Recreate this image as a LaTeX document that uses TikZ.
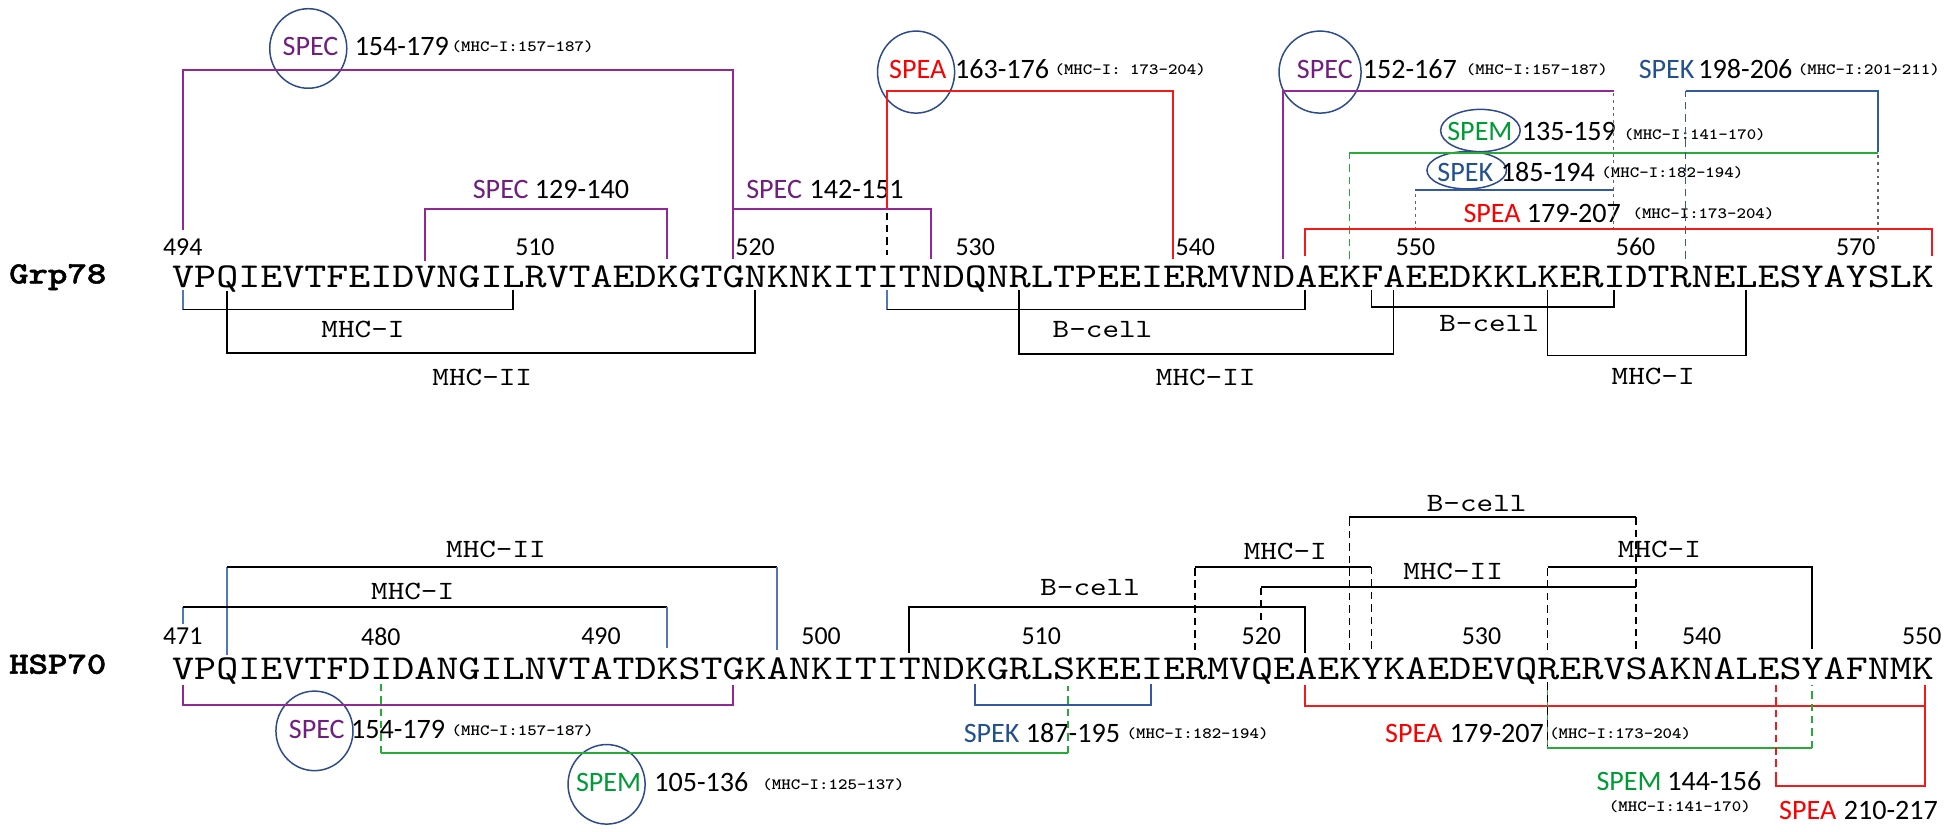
\documentclass[tikz,border=0pt]{standalone}
\usepackage{fontspec}
\newfontfamily\seqf{lmmono10-regular.otf}[FakeStretch=1.2]
\newfontfamily\protf{lmmonolt10-bold.otf}[FakeStretch=1.2,FakeBold=1.5]
\newfontfamily\minif{lmmonolt10-bold.otf}[FakeStretch=1.15]
\newfontfamily\calf{Carlito}
\usetikzlibrary{shapes.geometric,calc}
\definecolor{pur}{RGB}{145,40,150}
\definecolor{purT}{RGB}{112,30,128}
\definecolor{redL}{RGB}{245,25,25}
\definecolor{redT}{RGB}{250,0,0}
\definecolor{grnL}{RGB}{40,170,55}
\definecolor{grnT}{RGB}{0,155,55}
\definecolor{bluL}{RGB}{50,90,160}
\definecolor{bluT}{RGB}{35,80,145}
\definecolor{stl}{RGB}{80,120,180}
\definecolor{ringc}{RGB}{45,75,140}
\definecolor{dotg}{RGB}{100,100,100}
\tikzset{
  seq/.style={font=\seqf\fontsize{14.06}{16}\selectfont, inner sep=0pt, anchor=base west},
  protname/.style={font=\protf\fontsize{12.4}{14}\selectfont, inner sep=0pt, anchor=base west},
  lab/.style={font=\seqf\fontsize{10.6}{12}\selectfont, inner sep=0pt},
  num/.style={font=\calf\fontsize{10.4}{12}\selectfont, inner sep=0pt},
  tag/.style={font=\calf\fontsize{11.3}{13}\selectfont, inner sep=0pt, anchor=base west},
  mini/.style={font=\minif\fontsize{6.3}{7}\selectfont, inner sep=0pt, anchor=base west},
  ringnode/.style={draw=ringc, line width=0.6pt, ellipse, inner sep=0pt},
  br/.style={line width=0.75pt},
  dsh/.style={line width=0.75pt, dash pattern=on 3pt off 2pt},
  dotln/.style={line width=0.7pt, dotg, dash pattern=on 1.2pt off 1.5pt}
}
\begin{document}
\begin{tikzpicture}[x=0.5pt,y=-0.5pt]
\useasboundingbox (0,0) rectangle (1568,669);
\fill[white] (0,0) rectangle (1568,669);

% residue coordinates
\foreach \n in {494,...,573} \coordinate (g\n) at ({147+17.71*(\n-494)},231);
\foreach \n in {471,...,550} \coordinate (h\n) at ({147+17.71*(\n-471)},547);
\coordinate (gR) at (1554,231);
\coordinate (gB) at (1356,231);
\coordinate (hR) at (1549,547);
\coordinate (hX) at (1429,547);
\coordinate (hG) at (859,547);

% protein names and sequences
\node[protname] (grp) at (7,228) {Grp78};
\node[protname] (hsp) at (7,542) {HSP70};
\node[seq] (seqg) at (138.15,231) {VPQIEVTFEIDVNGILRVTAEDKGTGNKNKITITNDQNRLTPEEIERMVNDAEKFAEEDKKLKERIDTRNELESYAYSLK};
\node[seq] (seqh) at (138.15,547) {VPQIEVTFDIDANGILNVTATDKSTGKANKITITNDKGRLSKEEIERMVQEAEKYKAEDEVQRERVSAKNALESYAFNMK};

% position numbers
\foreach \n in {494,510,520,530,540,550,560,570} \node[num] (ng\n) at (g\n |- 0,198.5) {\n};
\foreach \n in {471,480,490,500,510,520,530,540,550} \node[num] (nh\n) at (h\n |- 0,512) {\n};

% ---------- rings ----------
\node[ringnode, minimum width=31pt, minimum height=32pt] (c1) at (248,39) {};
\node[ringnode, minimum width=31pt, minimum height=33pt] (c2) at (737,58) {};
\node[ringnode, minimum width=33pt, minimum height=33pt] (c3) at (1062,58) {};
\node[ringnode, minimum width=32pt, minimum height=17pt] (c4) at (1191,105) {};
\node[ringnode, minimum width=32pt, minimum height=15pt] (c5) at (1180,137) {};
\node[ringnode, minimum width=31pt, minimum height=32pt] (c6) at (253,588) {};
\node[ringnode, minimum width=31pt, minimum height=32pt] (c7) at (488,631) {};

% ---------- top labels ----------
\node[tag, text=purT] (t1a) at (227,44.5) {SPEC};
\node[tag] (t1b) at (285,44.5) {154-179};
\node[mini] (t1c) at (363,41.5) {(MHC-I:157-187)};
\node[tag, text=redT] (t2a) at (715,63) {SPEA};
\node[tag] (t2b) at (768,63) {163-176};
\node[mini] (t2c) at (848,60) {(MHC-I: 173-204)};
\node[tag, text=purT] (t3a) at (1043,63) {SPEC};
\node[tag] (t3b) at (1096,63) {152-167};
\node[mini] (t3c) at (1179,60) {(MHC-I:157-187)};
\node[tag, text=bluT] (t4a) at (1318,63) {SPEK};
\node[tag] (t4b) at (1366,63) {198-206};
\node[mini] (t4c) at (1446,60) {(MHC-I:201-211)};
\node[tag, text=grnT] (t5a) at (1164,113) {SPEM};
\node[tag] (t5b) at (1224,113) {135-159};
\node[mini] (t5c) at (1306,112) {(MHC-I:141-170)};
\node[tag, text=bluT] (t6a) at (1156,146) {SPEK};
\node[tag] (t6b) at (1207,146) {185-194};
\node[mini] (t6c) at (1288,143) {(MHC-I:182-194)};
\node[tag, text=redT] (t7a) at (1177,179) {SPEA};
\node[tag] (t7b) at (1228,179) {179-207};
\node[mini] (t7c) at (1313,176) {(MHC-I:173-204)};
\node[tag, text=purT] (t8a) at (380,160) {SPEC};
\node[tag] (t8b) at (430,160) {129-140};
\node[tag, text=purT] (t9a) at (600,160) {SPEC};
\node[tag] (t9b) at (651,160) {142-151};

% ---------- bottom labels ----------
\node[tag, text=purT] (b1a) at (232,594) {SPEC};
\node[tag] (b1b) at (282,594) {154-179};
\node[mini] (b1c) at (363,592) {(MHC-I:157-187)};
\node[tag, text=grnT] (b2a) at (463,637) {SPEM};
\node[tag] (b2b) at (526,637) {105-136};
\node[mini] (b2c) at (613,635) {(MHC-I:125-137)};
\node[tag, text=bluT] (b3a) at (775,597) {SPEK};
\node[tag] (b3b) at (825,597) {187-195};
\node[mini] (b3c) at (906,594) {(MHC-I:182-194)};
\node[tag, text=redT] (b4a) at (1114,597) {SPEA};
\node[tag] (b4b) at (1166,597) {179-207};
\node[mini] (b4c) at (1246,594) {(MHC-I:173-204)};
\node[tag, text=grnT] (b5a) at (1284,636) {SPEM};
\node[tag] (b5b) at (1341,636) {144-156};
\node[mini] (b5c) at (1294,653) {(MHC-I:141-170)};
\node[tag, text=redT] (b6a) at (1431,659) {SPEA};
\node[tag] (b6b) at (1483,659) {210-217};

% ---------- epitope labels ----------
\node[lab] (l1) at (292,265) {MHC-I};
\node[lab] (l2) at (388,304) {MHC-II};
\node[lab] (l3) at (887,265) {B-cell};
\node[lab] (l4) at (970,304) {MHC-II};
\node[lab] (l5) at (1198,260) {B-cell};
\node[lab] (l6) at (1330,303) {MHC-I};
\node[lab] (l7) at (399,442) {MHC-II};
\node[lab] (l8) at (332,476) {MHC-I};
\node[lab] (l9) at (877,473) {B-cell};
\node[lab] (l10) at (1034,444) {MHC-I};
\node[lab] (l11) at (1169,460) {MHC-II};
\node[lab] (l12) at (1188,405) {B-cell};
\node[lab] (l13) at (1335,442) {MHC-I};

% ---------- Grp78: peptides above ----------
\draw[br,pur] (g494|-0,185) -- (g494|-0,56) -- (g519|-0,56) -- (g519|-0,208);
\draw[br,pur] (g505|-0,210) -- (g505|-0,168) -- (g516|-0,168) -- (g516|-0,208);
\draw[br,pur] (g519|-0,168) -- (g528|-0,168) -- (g528|-0,208);
\draw[br,redL] (g526|-0,168) -- (g526|-0,73) -- (g539|-0,73) -- (g539|-0,208);
\draw[dsh] (g526|-0,171) -- (g526|-0,205);
\draw[br,pur] (g544|-0,208) -- (g544|-0,73) -- (g559|-0,73);
\draw[dotln] (g559|-0,75) -- (g559|-0,185);
\draw[dsh,grnL] (g547|-0,208) -- (g547|-0,123);
\draw[br,grnL] (g547|-0,123) -- (g571|-0,123);
\draw[dsh,bluL] (gB|-0,208) -- (gB|-0,73);
\draw[br,bluL] (gB|-0,73) -- (g571|-0,73) -- (g571|-0,122);
\draw[dotln] (g571|-0,125) -- (g571|-0,193);
\draw[br,bluL] (g550|-0,153) -- (g559|-0,153);
\draw[dotln] (g550|-0,156) -- (g550|-0,185);
\draw[br,redL] (g545|-0,206) -- (g545|-0,184) -- (gR|-0,184) -- (gR|-0,206);

% ---------- Grp78: epitopes below ----------
\draw[br,stl] (g494|-0,233) -- (g494|-0,249);
\draw[br] (g494|-0,249) -- (g509|-0,249) -- (g509|-0,233);
\draw[br] (g496|-0,234) -- (g496|-0,284) -- (g520|-0,284) -- (g520|-0,233);
\draw[br,stl] (g526|-0,233) -- (g526|-0,249);
\draw[br] (g526|-0,249) -- (g545|-0,249) -- (g545|-0,233);
\draw[br] (g532|-0,233) -- (g532|-0,285) -- (g549|-0,285) -- (g549|-0,233);
\draw[br] (g548|-0,233) -- (g548|-0,247) -- (g559|-0,247) -- (g559|-0,233);
\draw[br] (g556|-0,233) -- (g556|-0,286) -- (g565|-0,286) -- (g565|-0,233);

% ---------- HSP70: epitopes above ----------
\draw[br,stl] (h473|-0,527) -- (h473|-0,456);
\draw[br] (h473|-0,456) -- (h498|-0,456);
\draw[br,stl] (h498|-0,456) -- (h498|-0,523);
\draw[br,stl] (h471|-0,502) -- (h471|-0,488);
\draw[br] (h471|-0,488) -- (h493|-0,488);
\draw[br,stl] (h493|-0,488) -- (h493|-0,521);
\draw[br] (h504|-0,525) -- (h504|-0,488) -- (h522|-0,488) -- (h522|-0,525);
\draw[dsh] (h517|-0,523) -- (h517|-0,456);
\draw[br] (h517|-0,456) -- (h525|-0,456);
\draw[dsh] (h525|-0,456) -- (h525|-0,523);
\draw[dsh] (h520|-0,499) -- (h520|-0,472);
\draw[br] (h520|-0,472) -- (h537|-0,472);
\draw[dsh] (h524|-0,523) -- (h524|-0,416);
\draw[br] (h524|-0,416) -- (h537|-0,416);
\draw[dsh] (h537|-0,416) -- (h537|-0,525);
\draw[dsh] (h533|-0,523) -- (h533|-0,456);
\draw[br] (h533|-0,456) -- (h545|-0,456) -- (h545|-0,522);

% ---------- HSP70: peptides below ----------
\draw[br,pur] (h471|-0,551) -- (h471|-0,567) -- (h496|-0,567) -- (h496|-0,551);
\draw[dsh,grnL] (h480|-0,550) -- (h480|-0,606);
\draw[br,grnL] (h480|-0,606) -- (hG|-0,606);
\draw[dsh,grnL] (hG|-0,606) -- (hG|-0,552);
\draw[br,bluL] (h507|-0,550) -- (h507|-0,567) -- (h515|-0,567) -- (h515|-0,550);
\draw[br,redL] (h522|-0,551) -- (h522|-0,568) -- (hR|-0,568);
\draw[br,redL] (hR|-0,551) -- (hR|-0,633);
\draw[br,grnL] (h533|-0,549) -- (h533|-0,602) -- (h545|-0,602);
\draw[dsh] (h533|-0,549) -- (h533|-0,600);
\draw[dsh,grnL] (h545|-0,602) -- (h545|-0,551);
\draw[dsh,redL] (hX|-0,551) -- (hX|-0,626);
\draw[br,redL] (hX|-0,626) -- (hX|-0,632) -- (hR|-0,632);
\end{tikzpicture}
\end{document}
